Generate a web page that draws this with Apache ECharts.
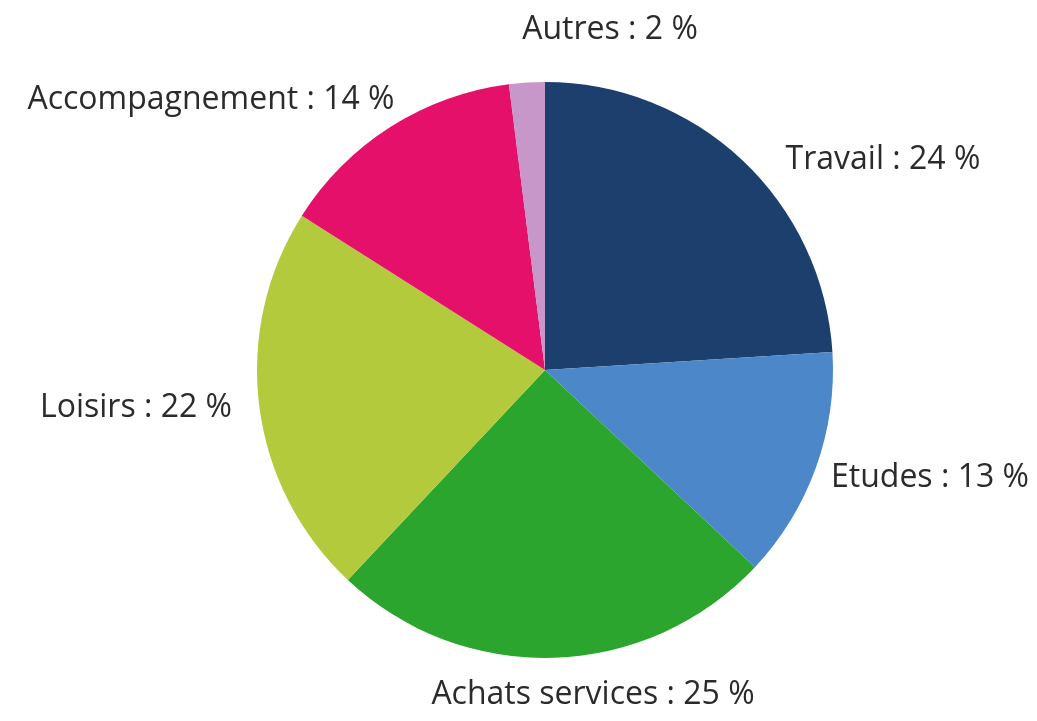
<!DOCTYPE html>
<html><head><meta charset="utf-8">
<script src="https://cdn.jsdelivr.net/npm/echarts@6/dist/echarts.min.js"></script>
<style>html,body{margin:0;padding:0;background:#fff}#c{width:1037px;height:721px}</style>
</head><body><div id="c"></div>
<script>
var categories = ['Travail', 'Etudes', 'Achats services', 'Loisirs', 'Accompagnement', 'Autres'];
var values = [24, 13, 25, 22, 14, 2];
var colors = ['#1c3f6d', '#4b87c9', '#2ca52f', '#b2ca3b', '#e5106a', '#c797c9'];
// label centre positions (layout only)
var labelPos = [[883,160],[930,478],[593,695],[136,408],[211,100],[610,30]];

var data = categories.map(function(n,i){return {name:n, value:values[i], itemStyle:{color:colors[i]}};});
var chart = echarts.init(document.getElementById('c'));
chart.setOption({
  animation:false,
  series:[{
    type:'pie',
    center:[545,370],
    radius:288,
    startAngle:90,
    clockwise:true,
    data:data,
    itemStyle:{borderWidth:0},
    label:{show:true, position:'outside', overflow:'none', formatter:function(p){return p.name+' : '+p.value+' %';},
      fontFamily:'Open Sans', fontSize:32, color:'#2b2b2b'},
    labelLine:{show:false},
    labelLayout:function(p){var q=labelPos[p.dataIndex];return {x:q[0],y:q[1],align:'center',verticalAlign:'middle'};},
    emphasis:{disabled:true}
  }]
});
</script></body></html>
